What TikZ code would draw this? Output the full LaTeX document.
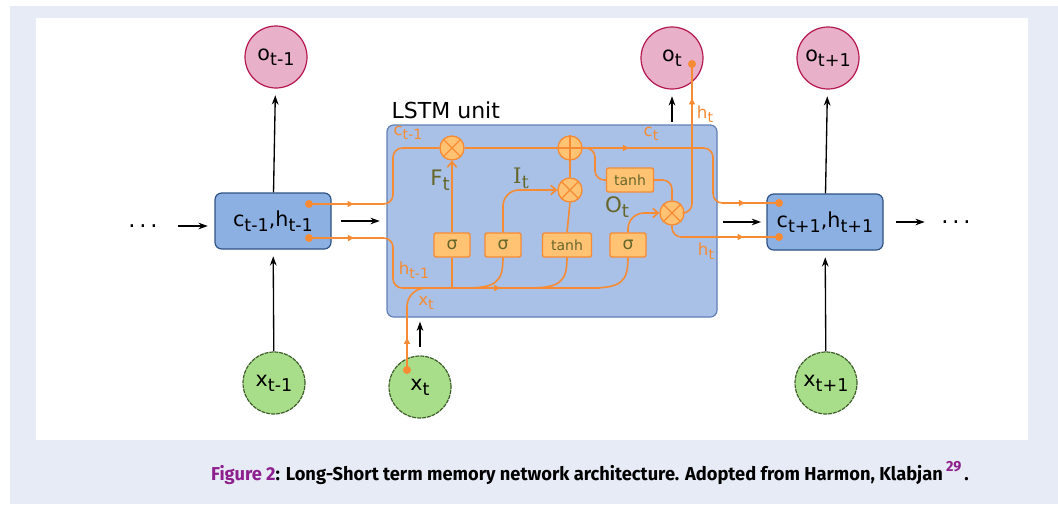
\documentclass[tikz,border=0pt]{standalone}
\usepackage{fontspec}
\usepackage{graphicx}
\setmainfont{DejaVu Sans}
\newfontfamily\serfont{DejaVu Serif}
\newfontfamily\capfont[FakeStretch=0.98]{Fira Sans}
\usetikzlibrary{arrows.meta,decorations.markings}
\definecolor{pagebg}{HTML}{E7EBF6}
\definecolor{lstmorange}{HTML}{F68B33}
\definecolor{opfill}{HTML}{FFC373}
\definecolor{olive}{HTML}{66662A}
\definecolor{pinkfill}{HTML}{E8B0C9}
\definecolor{pinkline}{HTML}{B5174F}
\definecolor{greenfill}{HTML}{A8DD8A}
\definecolor{greenline}{HTML}{3F5F2A}
\definecolor{boxfill}{HTML}{8DB0E3}
\definecolor{boxline}{HTML}{2E5385}
\definecolor{lstmfill}{HTML}{A9C1E7}
\definecolor{lstmline}{HTML}{6080B5}
\definecolor{capviolet}{HTML}{8E1F8E}
% letter with a subscript, as in the picture
\newcommand{\ix}[2]{#1\raisebox{-0.45ex}{\scalebox{0.85}{#2}}}
\begin{document}
\begin{tikzpicture}[x=0.75pt,y=-0.75pt,
 >={Stealth[length=7pt,width=5pt]},
 outnode/.style={circle,draw=pinkline,fill=pinkfill,line width=0.9pt,minimum size=46.5pt,inner sep=0pt,font=\fontsize{15.5}{15.5}\selectfont},
 innode/.style={circle,draw=greenline,fill=greenfill,line width=0.9pt,dash pattern=on 3pt off 0.7pt,minimum size=46.5pt,inner sep=0pt,font=\fontsize{15.5}{15.5}\selectfont},
 statebox/.style={rectangle,rounded corners=5pt,draw=boxline,fill=boxfill,line width=0.9pt,minimum width=87pt,minimum height=42pt,font=\fontsize{15.5}{15.5}\selectfont},
 lstmbox/.style={rectangle,rounded corners=5pt,draw=lstmline,fill=lstmfill,line width=0.9pt,minimum width=247.5pt,minimum height=144pt},
 opnode/.style={circle,draw=lstmorange,fill=opfill,line width=1pt,minimum size=18pt,inner sep=0pt},
 gatebox/.style={rectangle,rounded corners=1.5pt,draw=lstmorange,fill=opfill,line width=1pt,minimum height=18pt,inner sep=1pt,text=olive,font=\fontsize{10.5}{10.5}\selectfont},
 flow/.style={draw=lstmorange,line width=1.2pt,rounded corners=7pt},
 barb/.style={-{Straight Barb[length=4pt,width=7pt]}},
 midarrow/.style={postaction={decorate,decoration={markings,mark=at position #1 with {\arrow{Triangle[length=4.5pt,width=4.5pt]}}}}},
 flowlabel/.style={text=lstmorange,font=\fontsize{12.5}{12.5}\selectfont,inner sep=0pt},
 gatelabel/.style={text=olive,font=\fontsize{16}{16}\selectfont,inner sep=0pt},
 link/.style={->,line width=1pt}]
\useasboundingbox (0,0) rectangle (1058,504);
\fill[pagebg] (10,6) rectangle (1058,504);
\fill[white] (36,18) rectangle (1028,440);

% the three time steps
\node[outnode] (oprev) at (276,57) {\ix{o}{t-1}};
\node[outnode] (ot) at (672,58) {\ix{o}{t}};
\node[outnode] (onext) at (828,58) {\ix{o}{t+1}};
\node[statebox] (lbox) at (273,221) {\ix{c}{t-1},\ix{h}{t-1}};
\node[statebox] (rbox) at (825,222) {\ix{c}{t+1},\ix{h}{t+1}};
\node[innode] (xprev) at (274,383) {\ix{x}{t-1}};
\node[innode] (xt) at (420,387) {\ix{x}{t}};
\node[innode] (xnext) at (826,383) {\ix{x}{t+1}};
\node[font=\fontsize{17}{17}\selectfont] (dotsL) at (143,226) {.\,.\,.};
\node[font=\fontsize{17}{17}\selectfont] (dotsR) at (956,222) {.\,.\,.};

% the unit
\node[lstmbox] (lstm) at (552,221) {};
\node[anchor=base west,font=\fontsize{16.5}{16.5}\selectfont] (title) at (387,118) {LSTM unit};

\node[opnode] (mF) at (452,148) {};
\node[opnode] (pl) at (570,148) {};
\node[opnode] (mI) at (570,190) {};
\node[opnode] (mO) at (672,213) {};
\node[gatebox,minimum width=27pt,font=\fontsize{13}{13}\selectfont] (sF) at (452,245) {σ};
\node[gatebox,minimum width=27pt,font=\fontsize{13}{13}\selectfont] (sI) at (503,245) {σ};
\node[gatebox,minimum width=36.75pt] (tB) at (567,245) {tanh};
\node[gatebox,minimum width=27pt,font=\fontsize{13}{13}\selectfont] (sO) at (628,245) {σ};
\node[gatebox,minimum width=35.25pt] (tT) at (630,180) {tanh};

\foreach \n in {mF,mI,mO}{ % crosses
 \draw[lstmorange,line width=1pt] (\n.45) -- (\n.225) (\n.135) -- (\n.-45);}
\draw[lstmorange,line width=1pt] (pl.north) -- (pl.south) (pl.west) -- (pl.east);

\coordinate (cin) at (309,204);
\coordinate (hin) at (309,238);
\coordinate (cout) at (779,203);
\coordinate (hout) at (779,237);
\coordinate (xdot) at (407,370);
\coordinate (otdot) at (692,64);

% cell line
\draw[flow,midarrow=0.25] (cin) -- (393,204) -- (393,148) -- (mF.west);
\draw[flow] (mF.east) -- (pl.west);
\draw[flow,midarrow=0.19,midarrow=0.86] (pl.east) -- (713,148) -- (713,203) -- (cout);
\draw[flow] (pl.east) -- (595,148) -- (595,180) -- (tT.west);
\draw[flow] (tT.east) -| (mO.north);
% hidden line
\draw[flow,midarrow=0.135,midarrow=0.70] (hin) -- (393,238) -- (393,288) -- (600,288);
\draw[flow,midarrow=0.3,rounded corners=14pt] (xdot) |- (440,288);
\draw[flow] (452,288) -- (sF.south);
\draw[flow] (465,288) .. controls (496,288) and (503,282) .. (sI.south);
\draw[flow] (528,288) .. controls (560,288) and (567,282) .. (tB.south);
\draw[flow] (590,288) .. controls (621,288) and (628,282) .. (sO.south);
% gates
\draw[flow,barb] (sF.north) -- (mF.south);
\draw[flow,barb,rounded corners=12pt] (sI.north) |- (mI.west);
\draw[flow] (tB.north) -- (mI.south);
\draw[flow] (mI.north) -- (pl.south);
\draw[flow,barb,rounded corners=12pt] (sO.north) |- (mO.west);
\draw[flow,midarrow=0.78] (mO.east) -| (otdot);
\draw[flow,midarrow=0.69] (mO.south) |- (hout);
\foreach \d in {cin,hin,cout,hout,xdot,otdot}
 \fill[lstmorange] (\d) circle (3pt);

\node[flowlabel] (lc1) at (408,133) {\ix{c}{t-1}};
\node[flowlabel] (lc2) at (651,134) {\ix{c}{t}};
\node[flowlabel] (lh1) at (414,270) {\ix{h}{t-1}};
\node[flowlabel] (lx) at (426,303) {\ix{x}{t}};
\node[flowlabel] (lh2) at (705,114) {\ix{h}{t}};
\node[flowlabel] (lh3) at (706,251) {\ix{h}{t}};
\node[gatelabel] (lF) at (440,180) {\ix{F}{t}};
\node[gatelabel] (lI) at (521,178) {\serfont\ix{I}{t}};
\node[gatelabel] (lO) at (617,207) {\ix{O}{t}};

% black arrows
\draw[link,shorten <=12pt,shorten >=5pt] (dotsL.east) -- (dotsL.east -| lbox.west);
\draw[link,shorten <=7pt,shorten >=5pt] (lbox.east) -- (lstm.west);
\draw[link,shorten <=4pt,shorten >=4pt] (lstm.east |- rbox.west) -- (rbox.west);
\draw[link,shorten <=9pt,shorten >=9pt] (rbox.east) -- (dotsR.west |- rbox.east);
\draw[link,shorten >=5pt] (xprev) -- (lbox);
\draw[link,shorten >=5pt] (lbox) -- (oprev);
\draw[link,shorten >=5pt] (xnext) -- (rbox);
\draw[link,shorten >=5pt] (rbox) -- (onext);
\draw[link,shorten <=6pt,shorten >=3pt] (xt.north) -- (xt.north |- lstm.south);
\draw[link,shorten <=2pt,shorten >=5pt] (lstm.north -| ot.south) -- (ot.south);

\node[font=\capfont\bfseries\fontsize{14}{14}\selectfont] (caption) at (590,473)
 {\textcolor{capviolet}{Figure 2}: Long-Short term memory network architecture. Adopted from Harmon, Klabjan\,\raisebox{0.9ex}{\fontsize{11}{11}\selectfont\textcolor{capviolet}{29}}\,.};
\end{tikzpicture}
\end{document}
